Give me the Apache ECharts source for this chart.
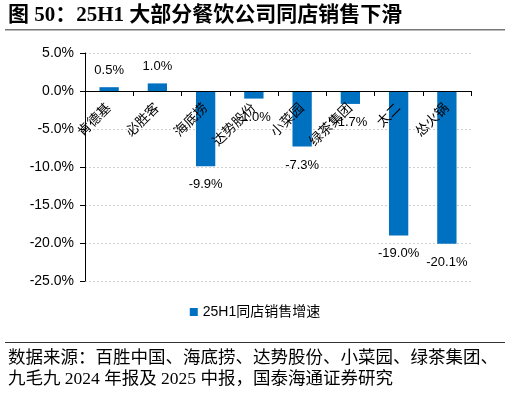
<!DOCTYPE html>
<html><head><meta charset="utf-8">
<script src="https://cdn.jsdelivr.net/npm/echarts@6/dist/echarts.min.js"></script>
<style>html,body{margin:0;padding:0;background:#fff}#c{width:510px;height:393px}</style>
</head><body><div id="c"></div>
<script>
const categories = ['肯德基','必胜客','海底捞','达势股份','小菜园','绿茶集团','太二','怂火锅'];
const values = [0.5, 1.0, -9.9, -1.0, -7.3, -1.7, -19.0, -20.1];
const seriesName = '25H1同店销售增速';
const yTicks = {min: -25, max: 5, interval: 5};
const titleText = '图 50：25H1 大部分餐饮公司同店销售下滑';
const sourceLines = ['数据来源：百胜中国、海底捞、达势股份、小菜园、绿茶集团、','九毛九 2024 年报及 2025 中报，国泰海通证券研究'];

const sans = '"Liberation Sans", Arial, "Noto Sans CJK SC", sans-serif';
const serif = '"Liberation Serif", "Noto Sans CJK SC", serif';
const H = 393, gridTop = 53, gridBottom = 112;
const plotH = H - gridTop - gridBottom;
// move the category axis up from the grid bottom to the value axis zero line
const zeroOffset = -plotH * (-yTicks.min) / (yTicks.max - yTicks.min);
const chart = echarts.init(document.getElementById('c'));
chart.setOption({
  animation: false,
  grid: {left: 85, right: 39, top: gridTop, bottom: gridBottom},
  legend: {bottom: 69, left: 'center', itemWidth: 8, itemHeight: 8, itemGap: 3,
    icon: 'rect', textStyle: {fontFamily: sans, fontSize: 14, color: '#000'}, data: [seriesName]},
  xAxis: {type: 'category', data: categories, position: 'bottom', offset: zeroOffset, z: 5,
    axisLine: {onZero: false, lineStyle: {color: '#000', width: 1}},
    axisTick: {show: true, length: 5, inside: false, lineStyle: {color: '#000'}},
    axisLabel: {interval: 0, rotate: 45, margin: 15, fontFamily: sans, fontSize: 13.5, color: '#000'}},
  yAxis: {type: 'value', min: yTicks.min, max: yTicks.max, interval: yTicks.interval,
    axisLine: {show: true, lineStyle: {color: '#000'}},
    axisTick: {show: true, length: 5, lineStyle: {color: '#000'}},
    axisLabel: {formatter: v => v.toFixed(1) + '%', fontFamily: sans, fontSize: 14, color: '#000', margin: 11},
    splitLine: {show: true, lineStyle: {color: '#d0d0d0', type: [2, 2]}}},
  series: [{name: seriesName, type: 'bar', barWidth: '40%', z: 2,
    itemStyle: {color: '#0070C0'},
    data: values.map(v => ({value: v, label: {position: v >= 0 ? 'top' : 'bottom', distance: v >= 0 ? 10 : 12}})),
    label: {show: true, fontFamily: sans, fontSize: 13, color: '#000',
      formatter: p => p.value.toFixed(1) + '%'}}],
  graphic: [
    {type: 'text', left: 8, top: 5, style: {text: titleText, font: 'bold 21px ' + serif, fill: '#000'}},
    {type: 'rect', shape: {x: 5, y: 29, width: 500, height: 1.5}, style: {fill: '#777'}},
    {type: 'rect', shape: {x: 5, y: 342, width: 500, height: 1}, style: {fill: '#333'}},
    {type: 'text', left: 8, top: 350, style: {text: sourceLines[0], font: '17.5px ' + serif, fill: '#000'}},
    {type: 'text', left: 8, top: 371, style: {text: sourceLines[1], font: '17.5px ' + serif, fill: '#000'}}
  ]
});
</script></body></html>
